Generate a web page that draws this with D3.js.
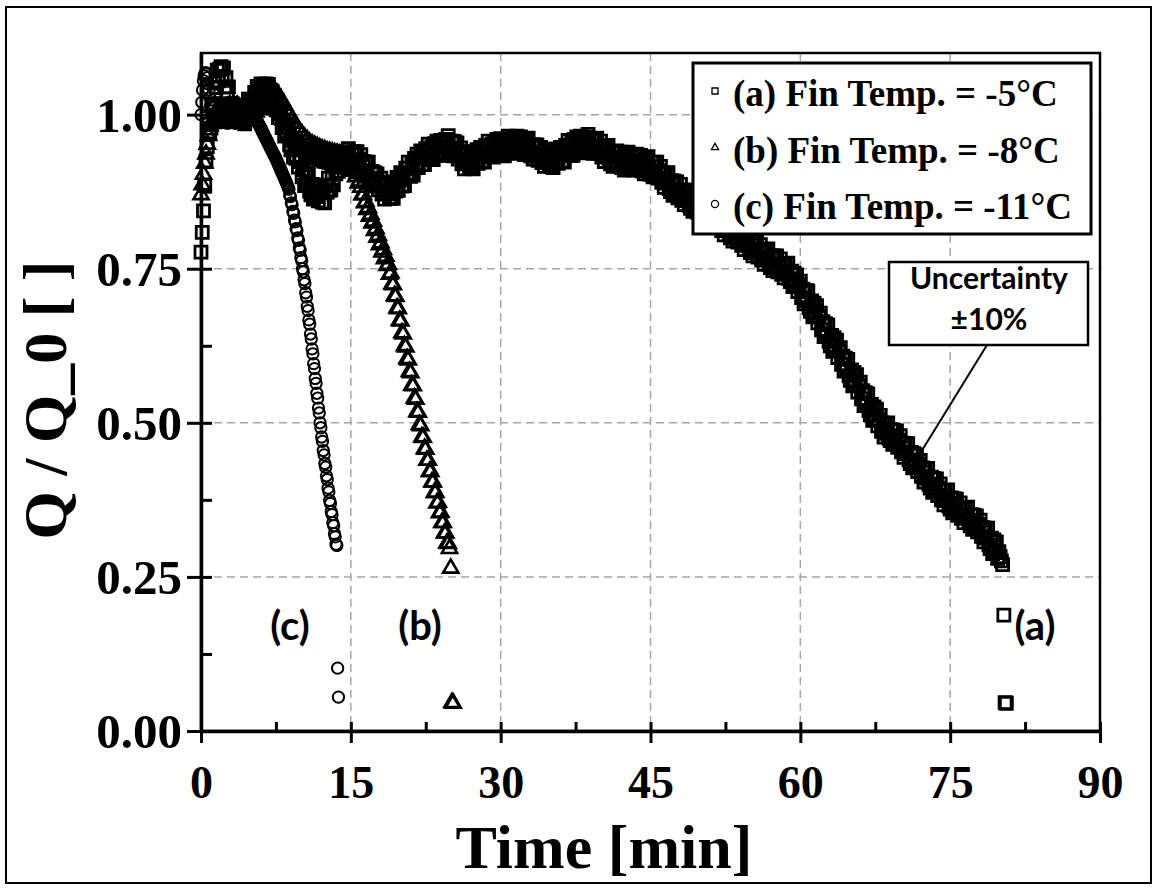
<!DOCTYPE html>
<html>
<head>
<meta charset="utf-8">
<script src="https://cdn.jsdelivr.net/npm/d3@7"></script>
<style>
  body { margin: 0; background: #fff; }
  svg { display: block; }
</style>
</head>
<body>
<svg id="chart" width="1158" height="890"></svg>
<script>
// Logger sampling interval of each run, in minutes
const stepA = 0.125;
const stepB = 0.125;
const stepC = 0.08;

// (a) Fin Temp. = -5 °C  — Q/Q_0, one value per sample (8 samples per minute)
const seriesA = [
  0.777, 0.809, 0.844, 0.885, 0.925, 0.948, 0.985, 0.972,
  0.978, 1.018, 1.016, 1.051, 1.044, 1.072, 1.055, 1.074,
  1.078, 1.062, 1.076, 1.045, 1.060, 1.036, 1.045, 1.013,
  1.003, 1.018, 0.991, 1.013, 0.994, 1.014, 0.990, 1.004,
  1.013, 0.989, 1.006, 0.985, 1.015, 1.003, 1.025, 1.003,
  1.003, 1.025, 1.006, 1.036, 1.024, 1.046, 1.025, 1.041,
  1.050, 1.031, 1.048, 1.030, 1.050, 1.039, 1.049, 1.029,
  1.023, 1.038, 1.011, 1.031, 1.009, 1.024, 0.995, 1.004,
  1.008, 0.979, 0.991, 0.965, 0.985, 0.966, 0.980, 0.951,
  0.943, 0.958, 0.931, 0.951, 0.929, 0.944, 0.915, 0.924,
  0.928, 0.899, 0.911, 0.885, 0.905, 0.887, 0.903, 0.876,
  0.870, 0.887, 0.863, 0.886, 0.867, 0.885, 0.860, 0.873,
  0.881, 0.858, 0.876, 0.857, 0.885, 0.874, 0.897, 0.877,
  0.878, 0.903, 0.886, 0.916, 0.904, 0.928, 0.908, 0.925,
  0.937, 0.915, 0.934, 0.914, 0.940, 0.926, 0.945, 0.921,
  0.918, 0.938, 0.916, 0.940, 0.922, 0.940, 0.915, 0.927,
  0.935, 0.909, 0.924, 0.900, 0.923, 0.906, 0.923, 0.896,
  0.891, 0.908, 0.884, 0.906, 0.887, 0.904, 0.878, 0.890,
  0.897, 0.871, 0.886, 0.863, 0.887, 0.872, 0.890, 0.866,
  0.864, 0.885, 0.864, 0.891, 0.876, 0.898, 0.877, 0.894,
  0.906, 0.884, 0.904, 0.885, 0.913, 0.901, 0.923, 0.901,
  0.900, 0.922, 0.902, 0.929, 0.914, 0.936, 0.914, 0.930,
  0.941, 0.919, 0.938, 0.919, 0.945, 0.932, 0.952, 0.929,
  0.927, 0.948, 0.927, 0.953, 0.937, 0.957, 0.934, 0.948,
  0.958, 0.936, 0.954, 0.934, 0.960, 0.946, 0.966, 0.942,
  0.938, 0.957, 0.933, 0.956, 0.937, 0.954, 0.928, 0.939,
  0.946, 0.920, 0.935, 0.912, 0.936, 0.921, 0.940, 0.916,
  0.913, 0.933, 0.912, 0.938, 0.922, 0.943, 0.921, 0.936,
  0.947, 0.924, 0.943, 0.923, 0.950, 0.937, 0.957, 0.934,
  0.932, 0.952, 0.931, 0.956, 0.940, 0.960, 0.937, 0.951,
  0.961, 0.937, 0.954, 0.933, 0.959, 0.945, 0.965, 0.941,
  0.938, 0.958, 0.937, 0.962, 0.945, 0.965, 0.941, 0.955,
  0.964, 0.939, 0.956, 0.935, 0.959, 0.944, 0.962, 0.937,
  0.933, 0.951, 0.928, 0.951, 0.933, 0.951, 0.926, 0.939,
  0.947, 0.922, 0.938, 0.916, 0.940, 0.925, 0.944, 0.919,
  0.916, 0.936, 0.914, 0.939, 0.923, 0.944, 0.921, 0.936,
  0.947, 0.924, 0.943, 0.923, 0.950, 0.937, 0.958, 0.935,
  0.934, 0.955, 0.934, 0.960, 0.944, 0.964, 0.941, 0.955,
  0.965, 0.941, 0.959, 0.938, 0.963, 0.949, 0.968, 0.944,
  0.940, 0.959, 0.937, 0.961, 0.943, 0.962, 0.937, 0.950,
  0.957, 0.931, 0.947, 0.924, 0.948, 0.932, 0.950, 0.924,
  0.920, 0.939, 0.916, 0.940, 0.922, 0.941, 0.917, 0.930,
  0.939, 0.914, 0.931, 0.910, 0.935, 0.920, 0.939, 0.915,
  0.912, 0.932, 0.910, 0.934, 0.917, 0.936, 0.912, 0.925,
  0.934, 0.909, 0.926, 0.904, 0.929, 0.914, 0.932, 0.907,
  0.903, 0.922, 0.899, 0.923, 0.904, 0.923, 0.897, 0.909,
  0.916, 0.890, 0.905, 0.882, 0.905, 0.889, 0.906, 0.880,
  0.875, 0.893, 0.869, 0.892, 0.873, 0.891, 0.865, 0.877,
  0.887, 0.861, 0.876, 0.854, 0.877, 0.861, 0.878, 0.853,
  0.848, 0.867, 0.843, 0.867, 0.848, 0.867, 0.841, 0.854,
  0.861, 0.836, 0.851, 0.829, 0.852, 0.837, 0.854, 0.829,
  0.824, 0.843, 0.819, 0.843, 0.824, 0.843, 0.817, 0.830,
  0.837, 0.812, 0.827, 0.805, 0.828, 0.813, 0.830, 0.805,
  0.800, 0.819, 0.795, 0.819, 0.800, 0.819, 0.793, 0.806,
  0.813, 0.788, 0.803, 0.781, 0.804, 0.789, 0.806, 0.781,
  0.776, 0.795, 0.771, 0.795, 0.776, 0.795, 0.769, 0.782,
  0.789, 0.764, 0.779, 0.757, 0.780, 0.765, 0.782, 0.757,
  0.752, 0.771, 0.747, 0.771, 0.752, 0.771, 0.745, 0.758,
  0.766, 0.741, 0.757, 0.735, 0.758, 0.742, 0.759, 0.734,
  0.729, 0.746, 0.721, 0.743, 0.723, 0.740, 0.713, 0.724,
  0.730, 0.703, 0.717, 0.693, 0.715, 0.698, 0.714, 0.687,
  0.681, 0.698, 0.672, 0.694, 0.673, 0.690, 0.662, 0.673,
  0.678, 0.651, 0.664, 0.640, 0.661, 0.644, 0.659, 0.632,
  0.625, 0.642, 0.616, 0.638, 0.617, 0.634, 0.606, 0.617,
  0.622, 0.595, 0.608, 0.584, 0.605, 0.588, 0.603, 0.576,
  0.569, 0.586, 0.560, 0.582, 0.561, 0.578, 0.550, 0.561,
  0.566, 0.539, 0.552, 0.528, 0.549, 0.532, 0.547, 0.520,
  0.513, 0.530, 0.504, 0.526, 0.505, 0.522, 0.495, 0.506,
  0.512, 0.486, 0.500, 0.477, 0.499, 0.483, 0.500, 0.475,
  0.471, 0.489, 0.465, 0.488, 0.469, 0.487, 0.460, 0.472,
  0.479, 0.453, 0.467, 0.444, 0.466, 0.450, 0.466, 0.440,
  0.434, 0.452, 0.427, 0.450, 0.430, 0.448, 0.421, 0.433,
  0.439, 0.413, 0.427, 0.404, 0.426, 0.410, 0.426, 0.400,
  0.394, 0.412, 0.387, 0.410, 0.391, 0.409, 0.382, 0.394,
  0.401, 0.375, 0.390, 0.367, 0.390, 0.374, 0.391, 0.365,
  0.360, 0.378, 0.354, 0.377, 0.358, 0.376, 0.350, 0.362,
  0.370, 0.345, 0.360, 0.338, 0.361, 0.346, 0.363, 0.338,
  0.333, 0.351, 0.327, 0.350, 0.331, 0.349, 0.323, 0.335,
  0.342, 0.316, 0.330, 0.307, 0.329, 0.313, 0.329, 0.302,
  0.296, 0.313, 0.288, 0.310, 0.290, 0.307, 0.280, 0.291,
  0.283, 0.276, 0.270, 0.188, 0.046, 0.045
];

// (b) Fin Temp. = -8 °C
const seriesB = [
  0.870, 0.886, 0.903, 0.921, 0.936, 0.952, 0.966, 0.981,
  0.985, 1.012, 0.990, 1.016, 0.993, 1.010, 0.988, 1.014,
  0.989, 1.015, 0.991, 1.012, 0.986, 1.013, 0.990, 1.016,
  0.992, 1.011, 0.987, 1.014, 0.990, 1.015, 0.988, 1.010,
  0.991, 1.014, 0.989, 1.016, 0.993, 1.017, 0.995, 1.021,
  0.998, 1.024, 1.001, 1.027, 1.004, 1.030, 1.008, 1.034,
  1.010, 1.036, 1.013, 1.040, 1.016, 1.041, 1.017, 1.043,
  1.018, 1.042, 1.016, 1.039, 1.011, 1.034, 1.005, 1.028,
  0.998, 1.022, 0.991, 1.015, 0.984, 1.007, 0.977, 1.000,
  0.970, 0.993, 0.964, 0.986, 0.958, 0.979, 0.952, 0.973,
  0.948, 0.968, 0.943, 0.963, 0.940, 0.959, 0.937, 0.955,
  0.933, 0.952, 0.931, 0.950, 0.929, 0.948, 0.927, 0.946,
  0.925, 0.944, 0.924, 0.943, 0.922, 0.941, 0.921, 0.940,
  0.920, 0.939, 0.919, 0.938, 0.918, 0.937, 0.917, 0.936,
  0.916, 0.935, 0.916, 0.934, 0.915, 0.933, 0.914, 0.932,
  0.913, 0.929, 0.908, 0.918, 0.899, 0.904, 0.889, 0.892,
  0.882, 0.870, 0.870, 0.857, 0.859, 0.846, 0.849, 0.835,
  0.838, 0.824, 0.827, 0.812, 0.815, 0.801, 0.804, 0.789,
  0.792, 0.777, 0.781, 0.766, 0.770, 0.755, 0.757, 0.741,
  0.743, 0.725, 0.724, 0.706, 0.705, 0.686, 0.685, 0.666,
  0.665, 0.646, 0.644, 0.625, 0.623, 0.604, 0.602, 0.583,
  0.581, 0.561, 0.560, 0.540, 0.538, 0.518, 0.517, 0.497,
  0.495, 0.477, 0.476, 0.458, 0.457, 0.439, 0.439, 0.421,
  0.421, 0.404, 0.404, 0.387, 0.387, 0.370, 0.371, 0.354,
  0.355, 0.338, 0.338, 0.321, 0.321, 0.305, 0.304, 0.296,
  0.264, 0.046, 0.045
];

// (c) Fin Temp. = -11 °C
const seriesC = [
  1.000, 1.020, 1.040, 1.055, 1.063, 1.067, 1.068, 1.066, 1.060, 1.050,
  1.040, 1.028, 1.016, 1.006, 0.998, 0.992, 0.990, 0.988, 0.990, 0.987,
  0.991, 0.988, 0.992, 0.989, 0.993, 0.990, 0.987, 0.991, 0.994, 0.990,
  0.988, 0.992, 0.989, 0.986, 0.990, 0.993, 0.989, 0.987, 0.991, 0.988,
  0.990, 0.993, 0.989, 0.986, 0.991, 0.988, 0.992, 0.989, 0.987, 0.990,
  0.993, 0.989, 0.991, 0.988, 0.992, 0.990, 0.987, 0.991, 0.994, 0.990,
  0.992, 0.995, 0.993, 0.997, 0.996, 0.999, 0.997, 0.995, 0.998, 0.994,
  0.990, 0.988, 0.985, 0.983, 0.980, 0.978, 0.975, 0.972, 0.970, 0.967,
  0.964, 0.962, 0.959, 0.957, 0.954, 0.951, 0.949, 0.946, 0.943, 0.941,
  0.938, 0.936, 0.933, 0.931, 0.928, 0.925, 0.922, 0.919, 0.916, 0.913,
  0.910, 0.907, 0.904, 0.901, 0.898, 0.895, 0.892, 0.889, 0.886, 0.882,
  0.879, 0.869, 0.867, 0.857, 0.854, 0.843, 0.840, 0.829, 0.826, 0.815,
  0.812, 0.800, 0.796, 0.784, 0.780, 0.768, 0.763, 0.750, 0.745, 0.732,
  0.726, 0.711, 0.704, 0.689, 0.682, 0.667, 0.660, 0.644, 0.636, 0.620,
  0.612, 0.596, 0.588, 0.572, 0.564, 0.548, 0.540, 0.524, 0.516, 0.500,
  0.492, 0.477, 0.470, 0.455, 0.448, 0.434, 0.428, 0.414, 0.408, 0.394,
  0.388, 0.374, 0.369, 0.356, 0.351, 0.338, 0.333, 0.320, 0.315, 0.303,
  0.301, 0.102, 0.055
];

const xTicks = [0, 15, 30, 45, 60, 75, 90];
const xMinorTicks = [7.5, 22.5, 37.5, 52.5, 67.5, 82.5];
const yTicks = [0, 0.25, 0.5, 0.75, 1.0];
const yMinorTicks = [0.125, 0.375, 0.625, 0.875];
const legendLabels = ["(a) Fin Temp. = -5°C", "(b) Fin Temp. = -8°C", "(c) Fin Temp. = -11°C"];
const runTags = ["(a)", "(b)", "(c)"];
const xTitle = "Time [min]";
const yTitle = "Q / Q_0 [ ]";
const noteLines = ["Uncertainty", "±10%"];

const serif = "'Liberation Serif', 'Times New Roman', serif";
const sans = "Lato, 'Open Sans', sans-serif";

const svg = d3.select("#chart");
const W = 1158, H = 890;
const plot = { left: 201, right: 1100, top: 53, bottom: 731 };

const x = d3.scaleLinear().domain([0, 90]).range([plot.left, plot.right]);
const y = d3.scaleLinear().domain([0, 1.1]).range([plot.bottom, plot.top]);

// outer frame
svg.append("rect").attr("x", 6).attr("y", 7).attr("width", W - 13).attr("height", H - 14)
  .attr("fill", "#fff").attr("stroke", "#000").attr("stroke-width", 2);

// dashed grid
const grid = svg.append("g").attr("stroke", "#a6a6a6").attr("stroke-width", 1.5)
  .attr("stroke-dasharray", "8,5");
grid.selectAll("line.v").data(xTicks.filter(d => d > 0 && d < 90)).join("line")
  .attr("x1", d => x(d)).attr("x2", d => x(d))
  .attr("y1", plot.top).attr("y2", plot.bottom);
grid.selectAll("line.h").data(yTicks.filter(d => d > 0)).join("line")
  .attr("x1", plot.left).attr("x2", plot.right)
  .attr("y1", d => y(d)).attr("y2", d => y(d));

// plot frame (top / right)
svg.append("rect").attr("x", plot.left).attr("y", plot.top)
  .attr("width", plot.right - plot.left).attr("height", plot.bottom - plot.top)
  .attr("fill", "none").attr("stroke", "#000").attr("stroke-width", 2.5);

// data markers, drawn run by run: (a) squares, (b) triangles, (c) circles
const toPoints = (vals, step) => vals.map((v, i) => ({ t: i * step, v }));
const markerLayer = svg.append("g").attr("fill", "none").attr("stroke", "#000");
const shapes = [
  { data: toPoints(seriesA, stepA), sym: d3.symbol(d3.symbolSquare, 144), sw: 2.8 },
  { data: toPoints(seriesB, stepB), sym: d3.symbol(d3.symbolTriangle, 100), sw: 2.6 },
  { data: toPoints(seriesC, stepC), sym: d3.symbol(d3.symbolCircle, 100), sw: 2.0 }
];
shapes.forEach(s => {
  markerLayer.append("g").attr("stroke-width", s.sw)
    .selectAll("path").data(s.data).join("path")
    .attr("d", s.sym)
    .attr("transform", d => `translate(${x(d.t)},${y(d.v)})`);
});

// x axis
const xAxisG = svg.append("g").attr("transform", `translate(0,${plot.bottom})`)
  .call(d3.axisBottom(x).tickValues(xTicks).tickFormat(d3.format("d")).tickSize(12).tickSizeOuter(0));
xAxisG.select(".domain").attr("stroke-width", 3.5);
xAxisG.selectAll(".tick line").attr("y1", -9).attr("stroke-width", 3);
xAxisG.selectAll(".tick text").attr("y", 67).attr("dy", null)
  .attr("font-family", serif).attr("font-weight", "bold").attr("font-size", 46).attr("fill", "#000");
svg.append("g").attr("transform", `translate(0,${plot.bottom})`)
  .call(d3.axisBottom(x).tickValues(xMinorTicks).tickFormat("").tickSize(-9).tickSizeOuter(0))
  .call(g => g.select(".domain").remove())
  .selectAll(".tick line").attr("stroke-width", 3);

// y axis
const yAxisG = svg.append("g").attr("transform", `translate(${plot.left},0)`)
  .call(d3.axisLeft(y).tickValues(yTicks).tickFormat(d3.format(".2f")).tickSize(14).tickSizeOuter(0));
yAxisG.select(".domain").attr("stroke-width", 3.5);
yAxisG.selectAll(".tick line").attr("x1", 11).attr("stroke-width", 3);
yAxisG.selectAll(".tick text").attr("x", -19).attr("dy", "0.34em")
  .attr("font-family", serif).attr("font-weight", "bold").attr("font-size", 49).attr("fill", "#000");
svg.append("g").attr("transform", `translate(${plot.left},0)`)
  .call(d3.axisLeft(y).tickValues(yMinorTicks).tickFormat("").tickSize(-11).tickSizeOuter(0))
  .call(g => g.select(".domain").remove())
  .selectAll(".tick line").attr("stroke-width", 3);

// axis titles
svg.append("text").attr("x", 604).attr("y", 868).attr("text-anchor", "middle")
  .attr("font-family", serif).attr("font-weight", "bold").attr("font-size", 62)
  .text(xTitle);
svg.append("text").attr("transform", "translate(66,400) rotate(-90)").attr("text-anchor", "middle")
  .attr("font-family", serif).attr("font-weight", "bold").attr("font-size", 62)
  .text(yTitle);

// run tags near the end of each run
const tagPos = [[1035, 640], [420, 640], [290, 640]];
svg.append("g").selectAll("text").data(runTags).join("text")
  .attr("x", (d, i) => tagPos[i][0]).attr("y", (d, i) => tagPos[i][1])
  .attr("text-anchor", "middle")
  .attr("font-family", sans).attr("font-weight", "bold").attr("font-size", 40)
  .text(d => d);

// legend
const legend = svg.append("g");
legend.append("rect").attr("x", 693).attr("y", 63).attr("width", 398).attr("height", 171)
  .attr("fill", "#fff").attr("stroke", "#000").attr("stroke-width", 3);
const legendSyms = [d3.symbol(d3.symbolSquare, 36), d3.symbol(d3.symbolTriangle, 22), d3.symbol(d3.symbolCircle, 40)];
legendLabels.forEach((label, i) => {
  const base = 106 + i * 56.5;
  legend.append("path").attr("d", legendSyms[i])
    .attr("transform", `translate(715,${base - 15})`)
    .attr("fill", "none").attr("stroke", "#000").attr("stroke-width", 1.3);
  legend.append("text").attr("x", 733).attr("y", base)
    .attr("font-family", serif).attr("font-weight", "bold").attr("font-size", 37)
    .text(label);
});

// uncertainty callout
svg.append("defs").append("marker").attr("id", "arrowOpen")
  .attr("viewBox", "-12 -7 14 14").attr("markerWidth", 14).attr("markerHeight", 14)
  .attr("markerUnits", "userSpaceOnUse").attr("orient", "auto").attr("refX", 0).attr("refY", 0)
  .append("path").attr("d", "M-11,-6 L0,0 L-11,6").attr("fill", "none")
  .attr("stroke", "#000").attr("stroke-width", 2);
svg.append("line").attr("x1", 987).attr("y1", 345).attr("x2", x(71.6)).attr("y2", y(0.44))
  .attr("stroke", "#000").attr("stroke-width", 2).attr("marker-end", "url(#arrowOpen)");
svg.append("rect").attr("x", 889).attr("y", 262).attr("width", 199).attr("height", 83)
  .attr("fill", "#fff").attr("stroke", "#000").attr("stroke-width", 2.5);
svg.append("g").selectAll("text").data(noteLines).join("text")
  .attr("x", 989).attr("y", (d, i) => 289 + i * 41).attr("text-anchor", "middle")
  .attr("font-family", sans).attr("font-weight", "bold").attr("font-size", 30)
  .text(d => d);
</script>
</body>
</html>
